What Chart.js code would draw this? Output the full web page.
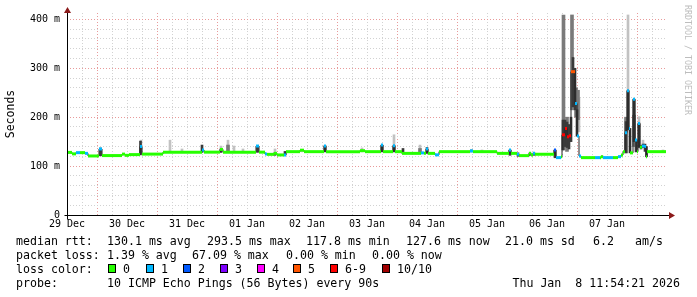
<!DOCTYPE html>
<html>
<head>
<meta charset="utf-8">
<script src="https://cdn.jsdelivr.net/npm/chart.js@4/dist/chart.umd.min.js"></script>
<style>
  body { margin: 0; background: #fff; }
  #wrap { position: relative; width: 697px; height: 297px; font-family: "DejaVu Sans Mono", monospace; color: #000; }
  #wrap canvas { position: absolute; left: 0; top: 0; }
  .row { position: absolute; left: 0; width: 697px; height: 14px; line-height: 14px; font-size: 11.6px; white-space: pre; }
  .row span { position: absolute; top: 0; }
  .row .box { top: 2px; width: 6px; height: 7px; border: 1px solid #000; }
  #mark { position: absolute; left: 683px; top: 5px; writing-mode: vertical-rl; font-size: 8.3px; color: #bdbdbd; white-space: pre; }
</style>
</head>
<body>
<div id="wrap">
  <canvas id="rttChart"></canvas>
  <div id="mark">RRDTOOL / TOBI OETIKER</div>
  <div class="row" style="top:234px">
    <span style="left:16px">median rtt:</span>
    <span style="left:107px">130.1 ms avg</span>
    <span style="left:207px">293.5 ms max</span>
    <span style="left:306px">117.8 ms min</span>
    <span style="left:406px">127.6 ms now</span>
    <span style="left:505px">21.0 ms sd</span>
    <span style="left:593px">6.2</span>
    <span style="left:635px">am/s</span>
  </div>
  <div class="row" style="top:248px">
    <span style="left:16px">packet loss:</span>
    <span style="left:107px">1.39 % avg</span>
    <span style="left:192px">67.09 % max</span>
    <span style="left:286px">0.00 % min</span>
    <span style="left:372px">0.00 % now</span>
  </div>
  <div class="row" id="lossRow" style="top:262px">
    <span style="left:16px">loss color:</span>
  </div>
  <div class="row" style="top:276px">
    <span style="left:16px">probe:</span>
    <span style="left:107px">10 ICMP Echo Pings (56 Bytes) every 90s</span>
    <span style="right:17px">Thu Jan  8 11:54:21 2026</span>
  </div>
</div>
<script>
// x axis is hours since the left edge of the graph (29 Dec, noon)
const dayLabels = ['29 Dec', '30 Dec', '31 Dec', '01 Jan', '02 Jan', '03 Jan', '04 Jan', '05 Jan', '06 Jan', '07 Jan'];
const yTickLabels = ['0', '100 m', '200 m', '300 m', '400 m'];

// loss legend
const lossNames = ['0', '1', '2', '3', '4', '5', '6-9', '10/10'];
const lossColors = ['#26ff00', '#00b8ff', '#0059ff', '#7e00ff', '#ff00ff', '#ff5500', '#ff0000', '#a10000'];

// median rtt (step values, each holds until the next time), ms, lost pings
const medianHours = [0, 2, 3.6, 5.2, 7.2, 8.4, 12.8, 14, 22, 23.2, 24.8, 29.2, 30, 38.4, 54, 54.8, 61.2, 62.4,
  75.6, 76.8, 79.2, 80, 82.8, 84, 86.8, 87.6, 93.2, 94.8, 102.8, 103.6, 117.2, 119.2, 125.6, 126.4, 130.4,
  131.2, 134, 141.6, 142.8, 143.6, 144.4, 147.2, 148.8, 161.2, 162.4, 172, 176.8, 177.6, 180, 180.8, 184.8,
  185.6, 186.4, 187.2, 194.8, 195.6, 197.6, 198, 199.2, 200, 200.8, 201.6, 203.2, 204, 204.8, 205.6, 211.2,
  213.2, 213.6, 214.4, 218.4, 220.4, 221.6, 222.4, 223.2, 224, 224.8, 225.2, 226.4, 227.2, 228, 228.4, 229.2,
  230, 231.2, 231.6, 232, 239.6];
const medianMs = [128, 125, 127.5, 127.5, 126, 120.7, 135, 121.5, 124.5, 122, 123.5, 140, 124.5, 128.5, 133, 128.5, 134, 128.5,
  141, 128.5, 124.5, 124, 126, 122.8, 122.8, 129.5, 132.5, 129.5, 141, 129.5, 131.5, 129.5, 143, 129.5, 141.8,
  129.5, 126, 127, 126, 135, 126, 123, 129.5, 131, 129.5, 126, 133, 126, 124, 121.4, 126,
  122.8, 126, 124.2, 133, 117.3, 119, 164, 177, 160, 162, 293, 228, 161.6, 120.7, 117.3, 117.3,
  117.3, 119, 117.3, 117.3, 119.3, 122.8, 129.5, 168.4, 254, 177, 127, 236.7, 153.5, 129.5, 187, 138.5,
  141, 140, 119.3, 129.5, 129.5];
const medianLoss = [0, 0, 1, 0, 1, 0, 1, 0, 0, 0, 0, 1, 0, 0, 1, 0, 0, 0,
  1, 0, 1, 0, 0, 0, 1, 0, 0, 0, 1, 0, 0, 0, 1, 0, 1,
  0, 0, 1, 0, 1, 0, 1, 0, 1, 0, 0, 1, 0, 1, 0, 0,
  0, 1, 0, 2, 1, 0, 6, 6, 6, 6, 5, 1, 1, 1, 0, 1,
  0, 0, 1, 0, 1, 0, 0, 1, 1, 1, 0, 1, 1, 0, 1, 0,
  1, 1, 0, 0, 0];

// smoke (spread of the pings), ms
const darkSmokeHours = [13.4, 29.4, 54, 61.6, 76.2, 83.2, 87.2, 103.2, 126, 130.8, 134.4, 144, 161.8, 177.2, 180.4,
  185.2, 186.8, 195.2, 198.4, 199.2, 200, 200.8, 201.6, 202.4, 203.2, 204, 223.6, 224.4, 225.2, 226.8, 227.6,
  228.8, 229.6, 230.4, 231.2, 231.8];
const darkSmokeLow = [121, 123, 128, 128, 128, 122, 122, 129, 129, 129, 126, 126, 129, 122, 120,
  122, 122, 117, 133, 140, 138, 135, 150, 221, 215, 161, 127, 174, 127, 150, 129,
  138, 135, 138, 130, 119];
const darkSmokeHigh = [137, 151, 143, 135, 142, 128, 130, 142, 143, 142, 136, 138, 133, 133, 127,
  127, 127, 133, 194, 194, 190, 185, 200, 322, 300, 215, 191, 255, 177, 237, 153,
  188, 142, 145, 145, 140];

const midSmokeHours = [64.4, 141.2, 198.6, 200, 202, 203.6, 204.4, 223.6, 226.8];
const midSmokeLow = [130, 126, 133, 130, 215, 200, 195, 127, 140];
const midSmokeHigh = [143, 136, 409, 200, 409, 260, 255, 200, 204];

const lightSmokeHours = [29.6, 41.2, 46, 61.6, 64.4, 66.8, 70.4, 83.2, 94, 118, 130.8, 141.2, 166, 204.8, 214,
  224.4, 228.8, 230.4, 238.4];
const lightSmokeLow = [123, 130, 129, 128, 128, 128, 128, 124, 129, 129, 129, 126, 129, 170, 117,
  255, 181, 138, 129];
const lightSmokeHigh = [153, 153, 135, 141, 153, 141, 135, 135, 134, 137, 164, 143, 133, 240, 122,
  409, 201, 153, 133];

function lossColor(loss) {
  if (loss >= 10) return lossColors[7];
  if (loss >= 6) return lossColors[6];
  return lossColors[loss];
}

// legend boxes
const lossRow = document.getElementById('lossRow');
const boxLeft = [108, 146, 183, 220, 257, 293, 330, 382];
lossNames.forEach((name, i) => {
  const box = document.createElement('span');
  box.className = 'box';
  box.style.left = boxLeft[i] + 'px';
  box.style.background = lossColors[i];
  lossRow.appendChild(box);
  const txt = document.createElement('span');
  txt.style.left = (boxLeft[i] + 15) + 'px';
  txt.textContent = name;
  lossRow.appendChild(txt);
});

// thick coloured median: only the level parts, the steps stay thin and dark
const levelPoints = [];
const levelColors = [];
for (let i = 0; i < medianHours.length - 1; i++) {
  const c = lossColor(medianLoss[i]);
  levelPoints.push({ x: medianHours[i], y: medianMs[i] });
  levelColors.push(c);
  levelPoints.push({ x: medianHours[i + 1], y: medianMs[i] });
  levelColors.push(null);
  levelPoints.push({ x: medianHours[i + 1], y: null });
  levelColors.push(null);
}

function smoke(hours, low, high) {
  return hours.map((h, i) => ({ x: h, y: [low[i], high[i]] }));
}

const axisArrows = {
  id: 'axisArrows',
  afterDraw(chart) {
    const { ctx, chartArea: a } = chart;
    const x0 = Math.round(a.left) + 0.5;
    const y0 = Math.round(a.bottom) + 0.5;
    ctx.save();
    ctx.strokeStyle = '#000';
    ctx.lineWidth = 1;
    ctx.beginPath();
    ctx.moveTo(x0, y0 + 4);
    ctx.lineTo(x0, a.top);
    ctx.moveTo(x0 - 3, y0);
    ctx.lineTo(a.right + 2, y0);
    ctx.stroke();
    ctx.fillStyle = '#8b1a1a';
    ctx.beginPath();
    ctx.moveTo(x0, a.top - 6);
    ctx.lineTo(x0 + 3.5, a.top);
    ctx.lineTo(x0 - 3.5, a.top);
    ctx.closePath();
    ctx.fill();
    ctx.beginPath();
    ctx.moveTo(a.right + 8, y0);
    ctx.lineTo(a.right + 2, y0 - 3.5);
    ctx.lineTo(a.right + 2, y0 + 3.5);
    ctx.closePath();
    ctx.fill();
    ctx.restore();
  }
};

const minorGrid = '#d2d2d2';
const majorGrid = '#e89a9a';
const tickFont = { family: 'DejaVu Sans Mono', size: 10 };

const canvas = document.getElementById('rttChart');
canvas.width = 697;
canvas.height = 297;

new Chart(canvas.getContext('2d'), {
  type: 'line',
  data: {
    datasets: [
      {
        type: 'line',
        label: 'median',
        data: levelPoints,
        spanGaps: false,
        borderWidth: 3,
        borderColor: lossColors[0],
        borderCapStyle: 'butt',
        pointRadius: 0,
        segment: { borderColor: ctx => levelColors[ctx.p0DataIndex] || 'transparent' },
        order: 0
      },
      {
        type: 'line',
        label: 'median line',
        data: medianHours.map((h, i) => ({ x: h, y: medianMs[i] })),
        stepped: true,
        borderWidth: 1,
        borderColor: '#202020',
        pointRadius: 0,
        order: 1
      },
      {
        type: 'bar',
        label: 'dark smoke',
        data: smoke(darkSmokeHours, darkSmokeLow, darkSmokeHigh),
        backgroundColor: '#3a3a3a',
        barThickness: 2,
        grouped: false,
        order: 2
      },
      {
        type: 'bar',
        label: 'mid smoke',
        data: smoke(midSmokeHours, midSmokeLow, midSmokeHigh),
        backgroundColor: '#7a7a7a',
        barThickness: 3,
        grouped: false,
        order: 3
      },
      {
        type: 'bar',
        label: 'light smoke',
        data: smoke(lightSmokeHours, lightSmokeLow, lightSmokeHigh),
        backgroundColor: '#c2c2c2',
        barThickness: 2,
        grouped: false,
        order: 4
      }
    ]
  },
  options: {
    responsive: false,
    animation: false,
    layout: { padding: { left: 0, top: 13, right: 30, bottom: 0 } },
    plugins: { legend: { display: false }, tooltip: { enabled: false } },
    scales: {
      x: {
        type: 'linear',
        min: 0,
        max: 240,
        offset: false,
        afterBuildTicks: scale => {
          const t = [];
          for (let v = 0; v < 240; v += 6) t.push({ value: v });
          scale.ticks = t;
        },
        afterFit: scale => { scale.height = 82; },
        ticks: {
          autoSkip: false,
          maxRotation: 0,
          minRotation: 0,
          padding: 3,
          color: '#000',
          font: tickFont,
          callback: v => (v % 24 === 0 ? dayLabels[v / 24] : '')
        },
        grid: {
          offset: false,
          drawTicks: false,
          lineWidth: 1,
          color: ctx => {
            const v = ctx.tick ? ctx.tick.value : 0;
            if (v === 0) return 'transparent';
            return v % 24 === 12 ? majorGrid : minorGrid;
          }
        },
        border: { display: false, dash: [1, 2] }
      },
      y: {
        type: 'linear',
        min: 0,
        max: 413,
        afterBuildTicks: scale => {
          const t = [];
          for (let v = 0; v <= 400; v += 20) t.push({ value: v });
          scale.ticks = t;
        },
        afterFit: scale => { scale.width = 67; },
        title: {
          display: true,
          text: 'Seconds',
          color: '#000',
          font: { family: 'DejaVu Sans Mono', size: 11.5 },
          padding: { top: 4, bottom: 4 }
        },
        ticks: {
          autoSkip: false,
          padding: 7,
          color: '#000',
          font: tickFont,
          callback: v => (v % 100 === 0 ? yTickLabels[v / 100] : '')
        },
        grid: {
          drawTicks: false,
          lineWidth: 1,
          color: ctx => {
            const v = ctx.tick ? ctx.tick.value : 0;
            if (v === 0) return 'transparent';
            return v % 100 === 0 ? majorGrid : minorGrid;
          }
        },
        border: { display: false, dash: [1, 2] }
      }
    }
  },
  plugins: [axisArrows]
});
</script>
</body>
</html>
